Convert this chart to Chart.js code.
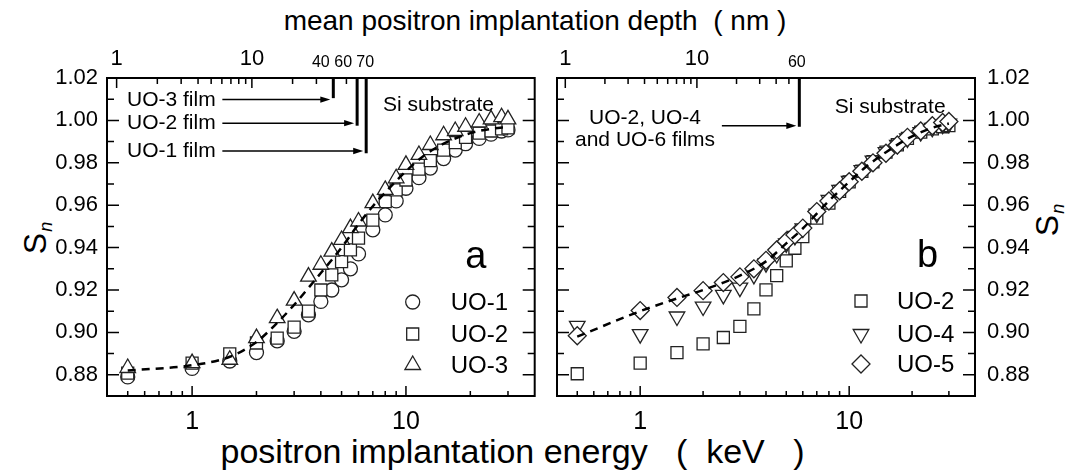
<!DOCTYPE html>
<html>
<head>
<meta charset="utf-8">
<script src="https://cdn.jsdelivr.net/npm/chart.js@4.4.1/dist/chart.umd.min.js"></script>
<style>
  html, body { margin: 0; padding: 0; background: #fff; }
  body { width: 1070px; height: 472px; position: relative; overflow: hidden;
         font-family: 'Liberation Sans', Arial, sans-serif; color: #000; }
  canvas { position: absolute; top: 0; }
  #chartA { left: 0; }
  #chartB { left: 545px; }
  .title { position: absolute; text-align: center; white-space: pre; line-height: 1; }
  .sn { position: absolute; white-space: nowrap; line-height: 1; font-size: 32px;
        transform: translate(-50%, -50%) rotate(-90deg); }
  .sn i { font-size: 18px; position: relative; top: 6px; margin-left: 1px; }
</style>
</head>
<body>
<div class="title" style="left:0; width:1070px; top:7px; font-size:28px;">mean positron implantation depth  ( nm )</div>
<div class="title" style="left:0; width:1025px; top:434px; font-size:34px;">positron implantation energy   (  keV   )</div>
<div class="sn" style="left:35px; top:238px;">S<i>n</i></div>
<div class="sn" style="left:1047px; top:220px;">S<i>n</i></div>
<canvas id="chartA" width="545" height="472"></canvas>
<canvas id="chartB" width="525" height="472"></canvas>
<script>
// ---- data ----
// panel a
const energyA = [0.5, 1, 1.5, 2, 2.5, 3, 3.5, 4, 4.5, 5, 5.5, 6, 7, 8, 9, 10, 11.5, 13, 15, 17, 19, 22, 25, 28, 30];
const uo1A = [0.8790, 0.8830, 0.8865, 0.8905, 0.8960, 0.9005, 0.9083, 0.9146, 0.9200, 0.9248, 0.9300, 0.9370, 0.9484,
              0.9554, 0.9620, 0.9680, 0.9730, 0.9775, 0.9820, 0.9860, 0.9890, 0.9915, 0.9935, 0.9950, 0.9955];
const uo2A = [0.8808, 0.8855, 0.8899, 0.8950, 0.8973, 0.9025, 0.9100, 0.9200, 0.9271, 0.9334, 0.9389, 0.9445, 0.9530,
              0.9617, 0.9672, 0.9719, 0.9770, 0.9810, 0.9860, 0.9895, 0.9920, 0.9940, 0.9950, 0.9960, 0.9965];
const uo3A = [0.8832, 0.8855, 0.8871, 0.8973, 0.9067, 0.9150, 0.9263, 0.9319, 0.9381, 0.9436, 0.9492, 0.9523, 0.9610,
              0.9672, 0.9727, 0.9790, 0.9837, 0.9884, 0.9930, 0.9950, 0.9970, 0.9990, 1.0005, 1.0015, 1.0005];
const fitEA = [0.5, 1, 1.5, 2, 2.5, 3, 3.5, 4, 5, 6, 7, 8, 10, 12, 15, 20, 25, 30];
const fitSA = [0.8820, 0.8845, 0.8885, 0.8955, 0.9045, 0.9130, 0.9210, 0.9280, 0.9400, 0.9510, 0.9595, 0.9660,
               0.9760, 0.9830, 0.9890, 0.9940, 0.9960, 0.9970];
// panel b
const energyB = [0.5, 1, 1.5, 2, 2.5, 3, 3.5, 4, 4.5, 5, 5.5, 6, 7, 8, 9, 10, 11.5, 13, 15, 17, 19, 22, 25, 28, 30];
const uo2B = [0.8805, 0.8855, 0.8905, 0.8946, 0.8976, 0.9028, 0.9111, 0.9201, 0.9268, 0.9337, 0.9397, 0.9452, 0.9539,
              0.9610, 0.9665, 0.9710, 0.9760, 0.9805, 0.9850, 0.9885, 0.9915, 0.9945, 0.9960, 0.9970, 0.9975];
const uo4B = [0.9031, 0.8992, 0.9075, 0.9122, 0.9177, 0.9211, 0.9271, 0.9327, 0.9370, 0.9420, 0.9455, 0.9490, 0.9560,
              0.9625, 0.9672, 0.9715, 0.9765, 0.9810, 0.9850, 0.9885, 0.9915, 0.9945, 0.9965, 0.9980, 0.9985];
const uo5B = [0.8984, 0.9103, 0.9165, 0.9197, 0.9235, 0.9262, 0.9300, 0.9340, 0.9389, 0.9430, 0.9460, 0.9492, 0.9570,
              0.9620, 0.9668, 0.9711, 0.9760, 0.9800, 0.9845, 0.9884, 0.9920, 0.9950, 0.9975, 0.9990, 0.9995];
const fitEB = [0.5, 1, 1.5, 2, 2.5, 3, 4, 5, 6, 7, 8, 10, 12, 15, 20, 25, 30];
const fitSB = [0.8980, 0.9100, 0.9160, 0.9200, 0.9235, 0.9268, 0.9335, 0.9420, 0.9490, 0.9560, 0.9620, 0.9710,
               0.9780, 0.9850, 0.9925, 0.9965, 0.9985];

// ---- axes ----
const energyTicks = [0.5, 0.6, 0.7, 0.8, 0.9, 1, 2, 3, 4, 5, 6, 7, 8, 9, 10, 20, 30];
const energyLabels = [1, 10];
const depthTicksA = [1, 2, 3, 4, 5, 6, 7, 8, 9, 10, 20, 30, 40, 50, 60, 70];
const depthTicksB = [1, 2, 3, 4, 5, 6, 7, 8, 9, 10, 20, 30, 40, 50, 60];
const depthLabels = [1, 10];
const sTicks = [0.87, 0.88, 0.89, 0.90, 0.91, 0.92, 0.93, 0.94, 0.95, 0.96, 0.97, 0.98, 0.99, 1.00, 1.01, 1.02];
const sLabels = [0.88, 0.90, 0.92, 0.94, 0.96, 0.98, 1.00, 1.02];

// film thickness markers (depth in nm) and their labels
const filmDepthA = [40, 60, 70];
const filmNameA = ['UO-3 film', 'UO-2 film', 'UO-1 film'];
const filmDepthB = [60];

const FONT = "'Liberation Sans', Arial, sans-serif";
Chart.defaults.font.family = FONT;
Chart.defaults.color = '#000';

function pts(xs, ys) { return xs.map((x, i) => ({ x, y: ys[i] })); }
const near = (list, v) => list.some(t => Math.abs(t - v) < 1e-6);

function markers(label, xs, ys, style, radius, order, rotation) {
  return {
    label, data: pts(xs, ys), showLine: false, order,
    pointStyle: style, pointRadius: radius, pointRotation: rotation || 0,
    pointBackgroundColor: '#fff', pointBorderColor: '#222', pointBorderWidth: 1.3
  };
}
function fitLine(xs, ys) {
  return {
    label: 'fit', data: pts(xs, ys), showLine: true, order: 0,
    borderColor: '#000', borderWidth: 2.5, borderDash: [8, 6],
    pointRadius: 0, cubicInterpolationMode: 'monotone'
  };
}

// inward ticks, frame and the annotations of each panel
const panelDecor = {
  id: 'panelDecor',
  afterDraw(chart, args, o) {
    const { ctx, chartArea: a } = chart;
    const { x, x2, y } = chart.scales;
    ctx.save();
    ctx.strokeStyle = '#000';
    ctx.fillStyle = '#000';
    ctx.lineWidth = 1.5;
    ctx.beginPath();
    x.ticks.forEach(t => {
      const px = x.getPixelForValue(t.value);
      const len = near(energyLabels, t.value) ? 10 : 5;
      ctx.moveTo(px, a.bottom); ctx.lineTo(px, a.bottom - len);
    });
    x2.ticks.forEach(t => {
      const px = x2.getPixelForValue(t.value);
      const len = near(depthLabels, t.value) ? 10 : 6;
      ctx.moveTo(px, a.top); ctx.lineTo(px, a.top + len);
    });
    y.ticks.forEach(t => {
      const py = y.getPixelForValue(t.value);
      const len = near(sLabels, t.value) ? 12 : 7;
      ctx.moveTo(a.left, py); ctx.lineTo(a.left + len, py);
      ctx.moveTo(a.right, py); ctx.lineTo(a.right - len, py);
    });
    ctx.stroke();
    ctx.lineWidth = 2;
    ctx.strokeRect(a.left, a.top, a.right - a.left, a.bottom - a.top);

    // small depth labels above the frame
    ctx.font = '16px ' + FONT;
    ctx.textAlign = 'center';
    ctx.textBaseline = 'alphabetic';
    o.smallLabels.forEach(d => {
      ctx.fillText(String(d.v), x2.getPixelForValue(d.v) + d.dx, a.top - 11);
    });

    // film thickness lines
    ctx.lineWidth = 3;
    o.films.forEach(f => {
      const px = x2.getPixelForValue(f.depth);
      ctx.beginPath(); ctx.moveTo(px, a.top); ctx.lineTo(px, y.getPixelForValue(f.bottom)); ctx.stroke();
    });
    // arrows
    o.arrows.forEach(ar => {
      const x0 = x.getPixelForValue(ar.from);
      const x1 = x2.getPixelForValue(ar.to) - 3;
      const py = y.getPixelForValue(ar.s);
      ctx.lineWidth = 1.5;
      ctx.beginPath(); ctx.moveTo(x0, py); ctx.lineTo(x1 - 6, py); ctx.stroke();
      ctx.beginPath(); ctx.moveTo(x1, py); ctx.lineTo(x1 - 10, py - 3.2); ctx.lineTo(x1 - 10, py + 3.2); ctx.closePath(); ctx.fill();
    });
    // texts
    ctx.textBaseline = 'middle';
    o.texts.forEach(t => {
      ctx.font = t.size + 'px ' + FONT;
      ctx.textAlign = t.align;
      ctx.fillText(t.text, x.getPixelForValue(t.e), y.getPixelForValue(t.s));
    });

    // legend inside the plot
    const lg = o.legend;
    lg.items.forEach((idx, row) => {
      const ds = chart.data.datasets[idx];
      const cx = a.right - lg.dx, cy = a.bottom - lg.dy[row];
      ctx.fillStyle = '#fff'; ctx.strokeStyle = '#222'; ctx.lineWidth = 1.3;
      Chart.helpers.drawPoint(ctx, { pointStyle: ds.pointStyle, radius: ds.pointRadius,
        rotation: ds.pointRotation, borderWidth: 1.3 }, cx, cy);
      ctx.fillStyle = '#000';
      ctx.font = '24px ' + FONT;
      ctx.textAlign = 'left';
      ctx.textBaseline = 'middle';
      ctx.fillText(ds.label, cx + lg.gap, cy + 1);
    });
    // panel letter
    ctx.font = '38px ' + FONT;
    ctx.textAlign = 'center';
    ctx.textBaseline = 'alphabetic';
    ctx.fillText(o.letter.text, a.right - o.letter.dx, a.bottom - o.letter.dy);
    ctx.restore();
  }
};

function scalesFor(depthTicks, depthMin, depthMax, yPos, yWidth, yPad) {
  return {
    x: {
      type: 'logarithmic', position: 'bottom', min: 0.4, max: 40,
      afterBuildTicks: s => { s.ticks = energyTicks.map(v => ({ value: v })); },
      afterFit: s => { s.height = 76; },
      grid: { display: false, drawTicks: false }, border: { display: false },
      ticks: { autoSkip: false, maxRotation: 0, minRotation: 0, padding: 11,
               font: { size: 25 }, callback: v => near(energyLabels, v) ? String(v) : '' }
    },
    x2: {
      type: 'logarithmic', position: 'top', min: depthMin, max: depthMax,
      afterBuildTicks: s => { s.ticks = depthTicks.map(v => ({ value: v })); },
      afterFit: s => { s.height = 78; },
      grid: { display: false, drawTicks: false }, border: { display: false },
      ticks: { autoSkip: false, maxRotation: 0, minRotation: 0, padding: 6,
               font: { size: 22 }, callback: v => near(depthLabels, v) ? String(v) : '' }
    },
    y: {
      type: 'linear', position: yPos, min: 0.87, max: 1.02,
      afterBuildTicks: s => { s.ticks = sTicks.map(v => ({ value: v })); },
      afterFit: s => { s.width = yWidth; },
      grid: { display: false, drawTicks: false }, border: { display: false },
      ticks: { autoSkip: false, padding: yPad, font: { size: 22 },
               callback: v => near(sLabels, v) ? v.toFixed(2) : '' }
    }
  };
}

const baseOptions = {
  responsive: false, animation: false, events: [],
  plugins: { legend: { display: false }, tooltip: { enabled: false } }
};

new Chart(document.getElementById('chartA'), {
  type: 'scatter',
  data: {
    datasets: [
      fitLine(fitEA, fitSA),
      markers('UO-1', energyA, uo1A, 'circle', 7, 3),
      markers('UO-2', energyA, uo2A, 'rect', 8.5, 2),
      markers('UO-3', energyA, uo3A, 'triangle', 9, 1)
    ]
  },
  options: {
    ...baseOptions,
    layout: { padding: { left: 0, right: 8, top: 0, bottom: 0 } },
    scales: scalesFor(depthTicksA, 0.849, 1233, 'left', 107, 9),
    plugins: {
      ...baseOptions.plugins,
      panelDecor: {
        smallLabels: [{ v: 40, dx: -12.5 }, { v: 60, dx: -14 }, { v: 70, dx: -1 }],
        films: filmDepthA.map((d, i) => ({ depth: d, bottom: [1.0105, 0.9975, 0.9845][i] })),
        arrows: filmDepthA.map((d, i) => ({ from: 1.385, to: d, s: [1.0098, 0.9987, 0.9856][i] })),
        texts: [
          ...filmNameA.map((n, i) => ({ text: n, e: 0.496, s: [1.0094, 0.9987, 0.9856][i], size: 21, align: 'left' })),
          { text: 'Si substrate', e: 14.2, s: 1.0074, size: 21, align: 'center' }
        ],
        legend: { items: [1, 2, 3], dx: 122, dy: [94, 62, 31], gap: 38 },
        letter: { text: 'a', dx: 59, dy: 128 }
      }
    }
  },
  plugins: [panelDecor]
});

new Chart(document.getElementById('chartB'), {
  type: 'scatter',
  data: {
    datasets: [
      fitLine(fitEB, fitSB),
      markers('UO-2', energyB, uo2B, 'rect', 8.5, 3),
      markers('UO-4', energyB, uo4B, 'triangle', 9, 2, 180),
      markers('UO-5', energyB, uo5B, 'rectRot', 9, 1)
    ]
  },
  options: {
    ...baseOptions,
    layout: { padding: { left: 12, right: 0, top: 0, bottom: 0 } },
    scales: scalesFor(depthTicksB, 0.865, 1297, 'right', 95, 12),
    plugins: {
      ...baseOptions.plugins,
      panelDecor: {
        smallLabels: [{ v: 60, dx: -2.5 }],
        films: filmDepthB.map(d => ({ depth: d, bottom: 0.9970 })),
        arrows: filmDepthB.map(d => ({ from: 2.46, to: d, s: 0.9975 })),
        texts: [
          { text: 'UO-2, UO-4', e: 1.055, s: 1.0012, size: 21, align: 'center' },
          { text: 'and UO-6 films', e: 1.055, s: 0.9908, size: 21, align: 'center' },
          { text: 'Si substrate', e: 15.7, s: 1.0060, size: 21, align: 'center' }
        ],
        legend: { items: [1, 2, 3], dx: 114, dy: [95, 62, 32], gap: 36 },
        letter: { text: 'b', dx: 47.5, dy: 129 }
      }
    }
  },
  plugins: [panelDecor]
});
</script>
</body>
</html>
